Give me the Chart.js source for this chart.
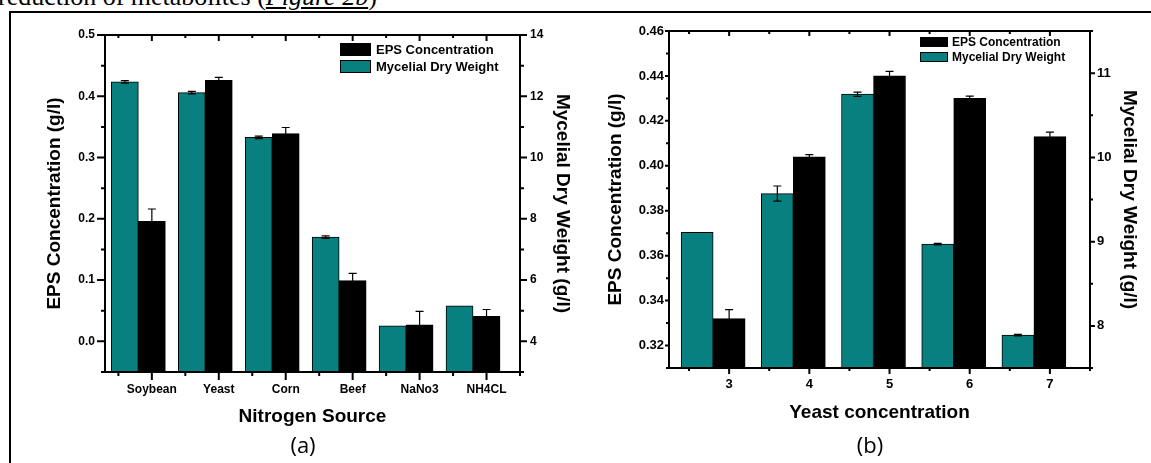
<!DOCTYPE html>
<html>
<head>
<meta charset="utf-8">
<title>EPS concentration and mycelial dry weight</title>
<script src="https://cdn.jsdelivr.net/npm/chart.js@4.4.1/dist/chart.umd.min.js"></script>
<style>
  html, body { margin: 0; padding: 0; background: #fff; }
  body { position: relative; width: 1151px; height: 463px; overflow: hidden; }
  .lead { position: absolute; left: -2px; top: -16px; white-space: nowrap; color: #000;
          font: 26px/26px 'Liberation Serif', 'Times New Roman', serif; }
  .lead u { font-style: italic; }
  .frame { position: absolute; left: 9px; top: 11px; right: -10px; bottom: -10px;
           border-top: 2px solid #000; border-left: 2px solid #000; }
  .panel { position: absolute; top: 14px; }
  .tag { position: absolute; top: 429px; transform: translateX(-50%); color: #000;
         font: 22px 'Open Sans', 'Liberation Sans', sans-serif; }
</style>
</head>
<body>
<div class="lead">reduction of metabolites (<u>Figure 2b</u>)</div>
<div class="frame"></div>
<canvas id="chartA" class="panel" width="568" height="420" style="left:12px"></canvas>
<canvas id="chartB" class="panel" width="568" height="420" style="left:582px"></canvas>
<div class="tag" style="left:303px">(a)</div>
<div class="tag" style="left:870px">(b)</div>

<script>
// ===== Data =====
// (a) nitrogen source
const categoriesA = ['Soybean', 'Yeast', 'Corn', 'Beef', 'NaNo3', 'NH4CL'];
const epsA = [0.196, 0.426, 0.339, 0.099, 0.027, 0.041];
const epsErrA = [0.020, 0.005, 0.010, 0.012, 0.022, 0.011];
const dryA = [12.47, 12.12, 10.66, 7.40, 4.51, 5.16];
const dryErrA = [0.04, 0.04, 0.04, 0.04, 0, 0];

// (b) yeast concentration
const yeastB = [3, 4, 5, 6, 7];
const epsB = [0.332, 0.404, 0.440, 0.430, 0.413];
const epsErrB = [0.004, 0.001, 0.002, 0.001, 0.002];
const dryB = [9.11, 9.57, 10.75, 8.97, 7.89];
const dryErrB = [0, 0.09, 0.025, 0.01, 0.01];

// tick labels
const epsTicksA = [0, 0.1, 0.2, 0.3, 0.4, 0.5];
const dryTicksA = [4, 6, 8, 10, 12, 14];
const epsTicksB = [0.32, 0.34, 0.36, 0.38, 0.40, 0.42, 0.44, 0.46];
const dryTicksB = [8, 9, 10, 11];

const LABEL_EPS = 'EPS Concentration';
const LABEL_DRY = 'Mycelial Dry Weight';

// ===== Style =====
const TEAL = '#08807f';
const INK = '#000';
const FONT = "'Liberation Sans', Arial, Helvetica, sans-serif";

// minor ticks sit half way between the major ones
function minorsOf(majors, min, max) {
  const step = majors[1] - majors[0];
  const out = [];
  for (let v = majors[0] - step / 2; v <= max + 1e-9; v += step) {
    if (v >= min - 1e-9) out.push(v);
  }
  return out;
}

// ===== Plugins =====
const errorBars = {
  id: 'errorBars',
  afterDatasetsDraw(chart, args, o) {
    const { ctx } = chart;
    ctx.save();
    ctx.strokeStyle = INK;
    ctx.lineWidth = 1.2;
    chart.data.datasets.forEach((ds, i) => {
      if (!ds.errors) return;
      const meta = chart.getDatasetMeta(i);
      const ys = chart.scales[meta.yAxisID];
      meta.data.forEach((bar, j) => {
        const e = ds.errors[j];
        if (!e) return;
        const v = ds.data[j].y;
        const hi = ys.getPixelForValue(v + e);
        const lo = ys.getPixelForValue(v - e);
        ctx.beginPath();
        ctx.moveTo(bar.x, hi); ctx.lineTo(bar.x, lo);
        ctx.moveTo(bar.x - o.cap, hi); ctx.lineTo(bar.x + o.cap, hi);
        ctx.moveTo(bar.x - o.cap, lo); ctx.lineTo(bar.x + o.cap, lo);
        ctx.stroke();
      });
    });
    ctx.restore();
  }
};

const frameTicks = {
  id: 'frameTicks',
  afterDatasetsDraw(chart, args, o) {
    const { ctx, chartArea: a, scales } = chart;
    ctx.save();
    ctx.strokeStyle = INK;
    ctx.lineWidth = 2;
    ctx.strokeRect(a.left, a.top, a.right - a.left, a.bottom - a.top);

    const mark = (scale, values, len, draw) => {
      values.forEach(v => draw(scale.getPixelForValue(v), len));
    };
    ctx.beginPath();
    const sx = scales.x, sy = scales.y, sy2 = scales.y2;
    const xMin = minorsOf(o.x, sx.min, sx.max);
    const yMin = minorsOf(o.y, sy.min, sy.max);
    const y2Min = minorsOf(o.y2, sy2.min, sy2.max);
    const bottom = (px, len) => { ctx.moveTo(px, a.bottom); ctx.lineTo(px, a.bottom + len); };
    const top = (px, len) => { ctx.moveTo(px, a.top); ctx.lineTo(px, a.top + len); };
    const left = (py, len) => { ctx.moveTo(a.left, py); ctx.lineTo(a.left - len, py); };
    const right = (py, len) => { ctx.moveTo(a.right, py); ctx.lineTo(a.right + len, py); };
    mark(sx, o.x, o.len.bottom[0], bottom);
    mark(sx, xMin, o.len.bottom[1], bottom);
    mark(sx, o.x, o.len.top[0], top);
    mark(sx, xMin, o.len.top[1], top);
    mark(sy, o.y, o.len.left[0], left);
    mark(sy, yMin, o.len.left[1], left);
    mark(sy2, o.y2, o.len.right[0], right);
    mark(sy2, y2Min, o.len.right[1], right);
    ctx.stroke();
    ctx.restore();
  }
};

const boxLegend = {
  id: 'boxLegend',
  afterDraw(chart, args, o) {
    const { ctx, chartArea: a } = chart;
    const items = chart.data.datasets.filter(d => d.label).reverse();
    ctx.save();
    ctx.font = o.font;
    ctx.textBaseline = 'middle';
    ctx.textAlign = 'left';
    items.forEach((d, i) => {
      const x = a.right - o.dx;
      const y = a.top + o.dy + i * o.row;
      ctx.fillStyle = d.backgroundColor;
      ctx.fillRect(x, y, o.w, o.h);
      ctx.strokeStyle = INK;
      ctx.lineWidth = 1;
      ctx.strokeRect(x + 0.5, y + 0.5, o.w - 1, o.h - 1);
      ctx.fillStyle = INK;
      ctx.fillText(d.label, x + o.w + o.gap, y + o.h / 2 + 1);
    });
    ctx.restore();
  }
};

// ===== Chart builder =====
function buildPanel(canvasId, s) {
  const pts = vals => vals.map((v, i) => ({ x: s.xs[i], y: v }));
  const tickFont = { family: FONT, size: s.tickSize, weight: 'bold' };
  const titleFont = { family: FONT, size: 19, weight: 'bold' };

  return new Chart(document.getElementById(canvasId), {
    type: 'bar',
    data: {
      datasets: [
        { label: LABEL_DRY, data: pts(s.dry), errors: s.dryErr, yAxisID: 'y2', base: s.dryRange[0],
          backgroundColor: TEAL, borderColor: INK, borderWidth: 1, barThickness: s.barWidth },
        { label: LABEL_EPS, data: pts(s.eps), errors: s.epsErr, yAxisID: 'y', base: s.epsRange[0],
          backgroundColor: INK, borderColor: INK, borderWidth: 1, barThickness: s.barWidth },
        // empty slot on the right so the EPS bar sits centred on its tick
        { data: pts(s.eps.map(() => null)), yAxisID: 'y', barThickness: s.barWidth }
      ]
    },
    options: {
      responsive: false,
      animation: false,
      events: [],
      layout: { padding: { top: s.box.top, left: 0, right: 0, bottom: 0 } },
      plugins: {
        legend: { display: false },
        tooltip: { enabled: false },
        errorBars: { cap: 4 },
        frameTicks: { x: s.xs, y: s.epsTicks, y2: s.dryTicks, len: s.tickLen },
        boxLegend: s.legend
      },
      scales: {
        x: {
          type: 'linear', min: s.xRange[0], max: s.xRange[1], offset: false,
          grid: { display: false, drawTicks: false }, border: { display: false },
          afterBuildTicks: ax => { ax.ticks = s.xs.map(v => ({ value: v })); },
          afterFit: ax => { ax.height = s.box.bottom; },
          ticks: { autoSkip: false, maxRotation: 0, padding: s.pad.x, color: INK, font: tickFont,
                   callback: s.xLabel },
          title: { display: true, text: s.xTitle, color: INK, font: titleFont,
                   padding: { top: 0, bottom: s.titlePad.x } }
        },
        y: {
          position: 'left', min: s.epsRange[0], max: s.epsRange[1],
          grid: { display: false, drawTicks: false }, border: { display: false },
          afterBuildTicks: ax => { ax.ticks = s.epsTicks.map(v => ({ value: v })); },
          afterFit: ax => { ax.width = s.box.left; },
          ticks: { padding: s.pad.y, color: INK, font: tickFont, callback: v => v.toFixed(s.epsDigits) },
          title: { display: true, text: 'EPS Concentration (g/l)', color: INK, font: titleFont,
                   padding: { top: s.titlePad.y, bottom: 0 } }
        },
        y2: {
          position: 'right', min: s.dryRange[0], max: s.dryRange[1],
          grid: { display: false, drawTicks: false }, border: { display: false },
          afterBuildTicks: ax => { ax.ticks = s.dryTicks.map(v => ({ value: v })); },
          afterFit: ax => { ax.width = s.box.right; },
          ticks: { padding: s.pad.y2, color: INK, font: tickFont, callback: v => String(v) },
          title: { display: true, text: 'Mycelial Dry Weight (g/l)', color: INK, font: titleFont,
                   padding: { top: s.titlePad.y2, bottom: 0 } }
        }
      }
    },
    plugins: [errorBars, frameTicks, boxLegend]
  });
}

// ===== Initialize =====
buildPanel('chartA', {
  xs: categoriesA.map((c, i) => i + 1),
  xLabel: v => categoriesA[v - 1],
  xTitle: 'Nitrogen Source',
  xRange: [0.3, 6.5],
  eps: epsA, epsErr: epsErrA, dry: dryA, dryErr: dryErrA,
  epsTicks: epsTicksA, dryTicks: dryTicksA, epsDigits: 1,
  epsRange: [-0.05, 0.5], dryRange: [3, 14],
  barWidth: 27, tickSize: 12,
  box: { top: 21, left: 93, right: 60, bottom: 62 },
  pad: { x: 10, y: 10, y2: 10 },
  titlePad: { x: 5.6, y: 31.6, y2: 6.6 },
  tickLen: { bottom: [8, 4], top: [6, 3], left: [8, 4], right: [7, 4] },
  legend: { dx: 180, dy: 8, w: 31, h: 13, row: 17, gap: 5, font: 'bold 13px ' + FONT }
});

buildPanel('chartB', {
  xs: yeastB,
  xLabel: v => String(v),
  xTitle: 'Yeast concentration',
  xRange: [2.25, 7.5],
  eps: epsB, epsErr: epsErrB, dry: dryB, dryErr: dryErrB,
  epsTicks: epsTicksB, dryTicks: dryTicksB, epsDigits: 2,
  epsRange: [0.31, 0.46], dryRange: [7.5, 11.5],
  barWidth: 32, tickSize: 13,
  box: { top: 17, left: 87, right: 60, bottom: 66 },
  pad: { x: 9, y: 5, y2: 7 },
  titlePad: { x: 9.6, y: 22.6, y2: 9.6 },
  tickLen: { bottom: [6, 3], top: [5, 3], left: [4, 3], right: [5, 3] },
  legend: { dx: 170, dy: 6, w: 28, h: 10, row: 15, gap: 4, font: 'bold 12px ' + FONT }
});
</script>
</body>
</html>
